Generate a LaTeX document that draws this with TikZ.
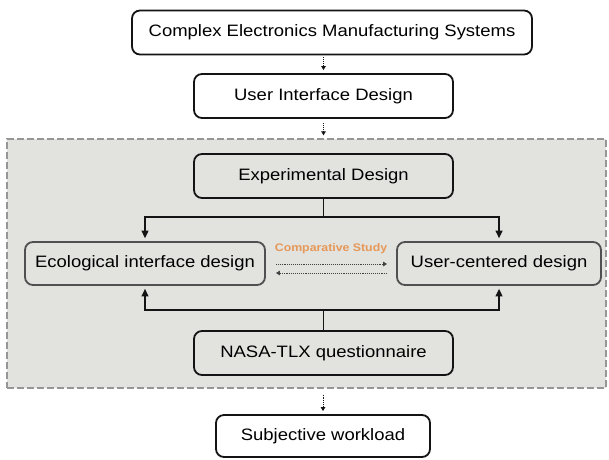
\documentclass[tikz,border=0pt]{standalone}
\usepackage{fontspec}
\setmainfont[FakeStretch=1.12]{Liberation Sans}
\usepackage{xcolor}
\definecolor{Black}{RGB}{20,20,20}
\definecolor{Grey}{RGB}{80,80,80}
\definecolor{Panel}{RGB}{226,226,223}
\definecolor{PanelLine}{RGB}{150,150,150}
\definecolor{Orange}{RGB}{230,152,88}
\definecolor{White}{RGB}{255,255,255}
\usetikzlibrary{arrows.meta}

\begin{document}
\begin{tikzpicture}[x=1pt, y=-1pt,
		block/.style={draw=Black, fill=White, rounded corners=8pt, line width=1.8pt, minimum height=44pt, inner sep=0pt, font=\fontsize{16.5}{19}\selectfont},
		inblock/.style={block, fill=Panel},
		sideblock/.style={inblock, draw=Grey, minimum height=43pt},
		flow/.style={draw=Black, line width=1.3pt, -{Triangle[length=7.5pt,width=7pt]}},
		hop/.style={draw=Black, line width=0.9pt, densely dotted, -{Triangle[length=4pt,width=4.5pt]}},
		cmp/.style={draw=Black!80, line width=0.9pt, densely dotted, -{Triangle[length=4pt,width=4.5pt]}}]
		
		\useasboundingbox (0,0) rectangle (609,459);
		
		% Panel
		\node[draw=PanelLine, fill=Panel, dash pattern=on 7pt off 3pt, line width=1.3pt, minimum width=599pt, minimum height=249pt, inner sep=0pt] (panel) at (306.5,263.5) {};
		
		% Blocks
		\node[block, minimum width=400pt] (cems) at (332,32.5) {Complex Electronics Manufacturing Systems};
		\node[block, minimum width=259pt] (uid) at (323.5,96) {User Interface Design};
		\node[inblock, minimum width=259pt] (exp) at (323.5,176) {Experimental Design};
		\node[sideblock, minimum width=240pt] (eco) at (145,263.5) {Ecological interface design};
		\node[sideblock, minimum width=204pt] (ucd) at (499,263.5) {User-centered design};
		\node[inblock, minimum width=259pt] (nasa) at (323.5,353) {NASA-TLX questionnaire};
		\node[block, minimum width=214pt, minimum height=42pt] (subj) at (323,436) {Subjective workload};
		
		% Label
		\node[font=\bfseries\fontsize{11}{13}\selectfont, text=Orange] (cmplabel) at (331,249) {Comparative Study};
		
		% Steps
		\draw[hop, shorten <=2pt, shorten >=3pt] (uid.north |- cems.south) -- (uid.north);
		\draw[hop, shorten <=4pt, shorten >=3pt] (uid.south) -- (uid.south |- panel.north);
		\draw[hop, shorten <=6pt, shorten >=3pt] (subj.north |- panel.south) -- (subj.north);
		
		% Flow
		\path (exp.south) ++(0,18) coordinate (split);
		\draw[flow, shorten >=3pt] (exp.south) -- (split) -| (eco.north);
		\draw[flow, shorten >=3pt] (split) -| (ucd.north);
		\path (nasa.north) ++(0,-20) coordinate (merge);
		\draw[flow, shorten >=3pt] (nasa.north) -- (merge) -| (eco.south);
		\draw[flow, shorten >=3pt] (merge) -| (ucd.south);
		
		% Comparison
		\draw[cmp, shorten <=10pt, shorten >=9pt] ([yshift=-0.5pt]eco.east) -- ([yshift=-0.5pt]eco.east -| ucd.west);
		\draw[cmp, shorten <=9pt, shorten >=10pt] ([yshift=-9.5pt]eco.east -| ucd.west) -- ([yshift=-9.5pt]eco.east);
		
	\end{tikzpicture}
\end{document}
